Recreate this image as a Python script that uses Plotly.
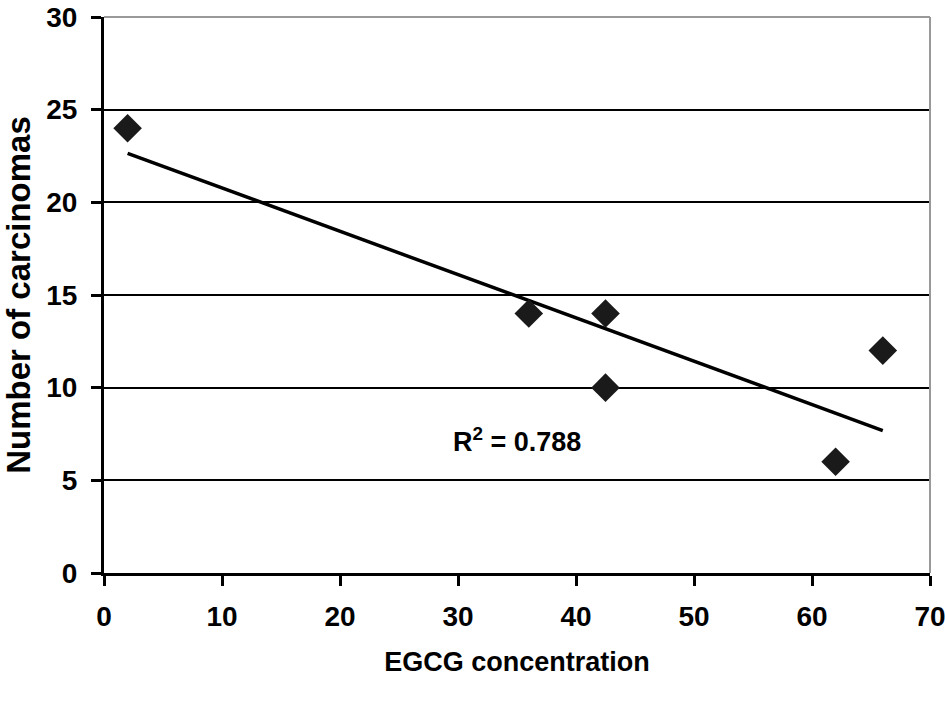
import numpy as np
import plotly.graph_objects as go

egcg = [2, 36, 42.5, 42.5, 62, 66]
carcinomas = [24, 14, 14, 10, 6, 12]
x_ticks = [0, 10, 20, 30, 40, 50, 60, 70]
y_ticks = [0, 5, 10, 15, 20, 25, 30]
r2_label = "R<sup>2</sup> = 0.788"

slope, intercept = np.polyfit(egcg, carcinomas, 1)
fit_x = [min(egcg), max(egcg)]
fit_y = [slope * v + intercept for v in fit_x]

font_family = "Liberation Sans, Arial, sans-serif"

fig = go.Figure()
fig.add_trace(go.Scatter(x=fit_x, y=fit_y, mode="lines",
                         line=dict(color="black", width=3.5), showlegend=False))
fig.add_trace(go.Scatter(x=egcg, y=carcinomas, mode="markers",
                         marker=dict(symbol="diamond", size=22, color="#1a1a1a"),
                         showlegend=False))

fig.update_layout(
    width=945, height=701,
    margin=dict(l=104, r=15, t=17, b=128),
    paper_bgcolor="white", plot_bgcolor="white",
    font=dict(family=font_family, color="black"),
    xaxis=dict(range=[0, 70], tickvals=x_ticks, showgrid=False, automargin=False,
               showline=True, linecolor="black", linewidth=3,
               ticks="outside", ticklen=10, tickwidth=3, tickcolor="black",
               ticklabelstandoff=6, ticklabeloverflow="allow",
               tickfont=dict(size=28, family=font_family, weight="bold"),
               title=dict(text="<b>EGCG concentration</b>", font=dict(size=27), standoff=22),
               zeroline=False),
    yaxis=dict(range=[0, 30], tickvals=y_ticks, showgrid=True, gridcolor="black", gridwidth=2,
               automargin=False,
               showline=True, linecolor="black", linewidth=3,
               ticks="outside", ticklen=10, tickwidth=3, tickcolor="black",
               ticklabelstandoff=8, ticklabeloverflow="allow",
               tickfont=dict(size=28, family=font_family, weight="bold"),
               title=dict(text="<b>Number of carcinomas</b>", font=dict(size=33), standoff=14),
               zeroline=False),
    annotations=[dict(x=35, y=7.2, xref="x", yref="y", text="<b>" + r2_label + "</b>",
                      showarrow=False, font=dict(size=27, family=font_family, color="black"))],
    shapes=[
        dict(type="line", xref="paper", yref="paper", x0=0, x1=1, y0=1, y1=1,
             line=dict(color="#999999", width=2)),
        dict(type="line", xref="paper", yref="paper", x0=1, x1=1, y0=0, y1=1,
             line=dict(color="#999999", width=2)),
    ],
)

fig.write_html("out.html", config={"displayModeBar": False},
               post_script="document.body.style.margin='0';")
